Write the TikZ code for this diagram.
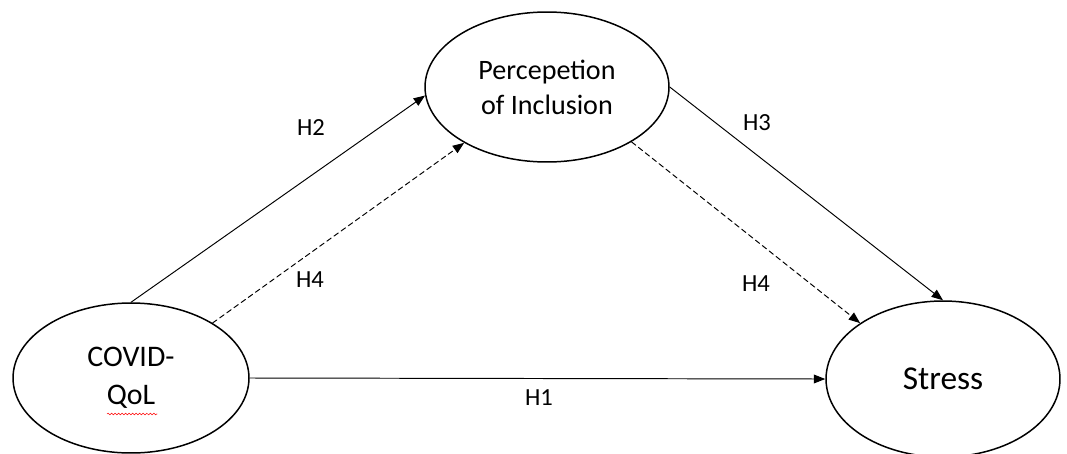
\documentclass[tikz,border=0pt]{standalone}
\usepackage{fontspec}
\setmainfont{Carlito}
\usetikzlibrary{shapes.geometric,arrows.meta,decorations.pathmorphing}

\begin{document}
\begin{tikzpicture}[x=0.02cm,y=-0.02cm,line cap=round,line join=round,
  var/.style={draw,ellipse,line width=0.85pt,inner sep=0pt,align=center},
  link/.style={line width=0.55pt,-{Triangle[length=6.5pt,width=5pt]}},
  hyp/.style={font=\fontsize{14}{17}\selectfont}]
  \useasboundingbox (0,0) rectangle (1067,453);
  % the three constructs
  \node[var,minimum width=4.72cm,minimum height=3.0cm,
    font=\fontsize{17}{21.5}\selectfont] (covid) at (131,378) {COVID-\\QoL};
  \node[var,minimum width=4.88cm,minimum height=3.0cm,
    font=\fontsize{16}{19.8}\selectfont] (incl) at (547,87) {Percepetion\\of Inclusion};
  \node[var,minimum width=4.68cm,minimum height=3.12cm,
    font=\fontsize{19}{23}\selectfont] (stress) at (943,379) {Stress};
  % spell-check mark under QoL
  \draw[red,line width=0.3pt,decorate,
    decoration={snake,amplitude=0.5pt,segment length=2pt}] (107,414) -- (157,414);
  % paths
  \draw[link] (covid.north) -- (incl.184);
  \draw[link,dash pattern=on 3pt off 2pt] (covid.34) -- (incl.214);
  \draw[link] (incl.east) -- (stress.north);
  \draw[link,dash pattern=on 3pt off 2pt] (incl.327) -- (stress.146);
  \draw[link] (covid.east) -- (stress.west);
  % hypotheses
  \node[hyp] (h2) at (311,128) {H2};
  \node[hyp] (h3) at (757,123) {H3};
  \node[hyp] (h4a) at (310,280) {H4};
  \node[hyp] (h4b) at (756,284) {H4};
  \node[hyp] (h1) at (539,398) {H1};
\end{tikzpicture}
\end{document}
